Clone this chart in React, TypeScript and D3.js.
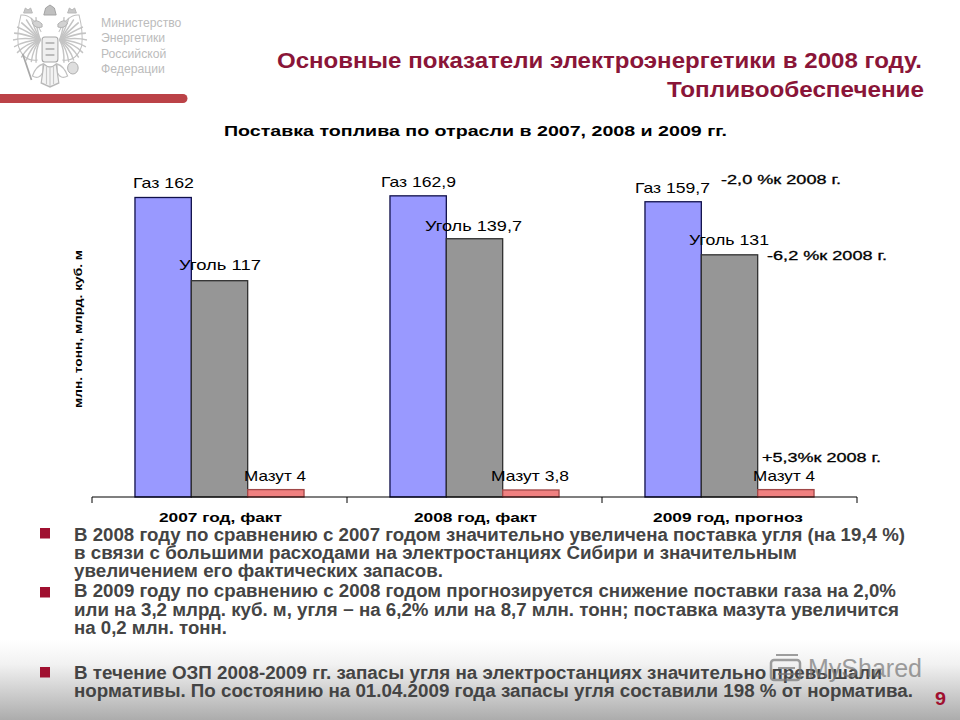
import React from "react";
import * as d3 from "d3";

const years = ["2007 год, факт", "2008 год, факт", "2009 год, прогноз"];
const fuels = ["Газ", "Уголь", "Мазут"];
const gas = [162, 162.9, 159.7];
const coal = [117, 139.7, 131];
const mazut = [4, 3.8, 4];
const seriesValues = [gas, coal, mazut];
const fuelColors = ["#9999ff", "#969696", "#f08080"];
const fuelStrokes = ["#10104a", "#303030", "#a04848"];
const notes = ["-2,0 %к 2008 г.", "-6,2 %к 2008 г.", "+5,3%к 2008 г."];
const logoLines = ["Министерство", "Энергетики", "Российской", "Федерации"];
const bodyLines = [
  "В 2008 году по сравнению с 2007 годом значительно увеличена поставка угля (на 19,4 %)",
  "в связи с большими расходами на электростанциях Сибири и значительным",
  "увеличением его фактических запасов.",
  "В 2009 году по сравнению с 2008 годом прогнозируется снижение поставки газа на 2,0%",
  "или на 3,2 млрд. куб. м, угля − на 6,2% или на 8,7 млн. тонн; поставка мазута увеличится",
  "на 0,2 млн. тонн.",
  "В течение ОЗП 2008-2009 гг. запасы угля на электростанциях значительно превышали",
  "нормативы. По состоянию на 01.04.2009 года запасы угля составили 198 % от норматива.",
];

// layout constants, kept apart from the data
const bodyBase = [541, 559, 577, 597, 616, 634, 679, 697];
const bodyEnd = [905, 797, 443, 896, 899, 227, 882, 913];
const bulletTop = [528, 587, 667];
const labelBoxes = [
  [[133, 194, 188], [179, 261, 270], [244, 306, 481]],
  [[381, 456, 187], [425, 522, 231], [491, 569, 481]],
  [[635, 710, 193], [689, 769, 245], [753, 815, 481]],
];
const noteBoxes = [[721, 841, 184], [767, 887, 260], [762, 881, 462]];
const catBoxes = [[159, 282], [414, 537], [653, 803]];
const FONT = "'Liberation Sans', Arial, sans-serif";

const fmt = (v: number) => String(v).replace(".", ",");

function T(p: any) {
  const { x0, x1, y, children, size = 14, weight = "normal", fill = "#000", extra } = p;
  return (
    <text
      x={x0}
      y={y}
      textLength={x1 - x0}
      lengthAdjust="spacingAndGlyphs"
      fontFamily={FONT}
      fontSize={size}
      fontWeight={weight}
      fill={fill}
      {...extra}
    >
      {children}
    </text>
  );
}

function Emblem() {
  const feathers = d3.range(0, 13);
  const wing = (s: number) => (
    <g transform={`translate(50,0) scale(${s},1)`} fill="none">
      {feathers.map((i) => {
        const a = (-78 + i * 13) * (Math.PI / 180);
        const r = 27 + 4 * Math.cos(a * 2);
        return (
          <path
            key={i}
            d={`M11 40 Q${11 + r * 0.5 * Math.cos(a) + 3} ${40 + r * 0.5 * Math.sin(a) - 3} ${11 + r * Math.cos(a)} ${40 + r * Math.sin(a)}`}
            stroke="#c4c4c4"
            strokeWidth={1.6}
          />
        );
      })}
      <path d="M10 32 Q20 14 33 15 Q38 32 36 46 Q30 62 14 60" stroke="#c0c0c0" strokeWidth={1.1} />
      <path d="M9 24 q7 -6 11 -1 q-3 6 -11 4 Z" fill="#d2d2d2" stroke="#b0b0b0" />
      <path d="M20 13 l2 -5 l3 2 l3 -2 l2 5 Z" fill="#c8c8c8" stroke="#b5b5b5" />
      <path d="M8 64 Q16 66 20 76 Q12 80 8 72 Z" stroke="#c0c0c0" strokeWidth={1.3} />
    </g>
  );
  return (
    <g transform="translate(50,0) scale(0.88,1) translate(-50,0)">
      {wing(1)}
      {wing(-1)}
      <rect x={41} y={37} width={18} height={25} rx={3} fill="#efefef" stroke="#a8a8a8" strokeWidth={1.2} />
      <path d="M45 43 h10 M45 49 h10 M45 55 h10" stroke="#bbb" strokeWidth={2} />
      <path d="M43 15 l2 -7 l5 -3 l5 3 l2 7 Z" fill="#c0c0c0" stroke="#a0a0a0" />
      <path d="M43 64 Q50 70 57 64 L60 83 L50 87 L40 83 Z" fill="#f4f4f4" stroke="#b8b8b8" strokeWidth={1.4} />
      <path d="M46 66 V84 M50 68 V86 M54 66 V84" stroke="#c8c8c8" strokeWidth={1.3} />
      <path d="M19 54 L29 80" stroke="#a8a8a8" strokeWidth={2} />
      <circle cx={76} cy={68} r={6} fill="#dedede" stroke="#aaa" />
    </g>
  );
}

export default function App() {
  const x0 = d3.scaleBand<string>().domain(years).range([92, 857]).paddingInner(0.337).paddingOuter(0.1685);
  const x1 = d3.scaleBand<string>().domain(fuels).range([0, x0.bandwidth()]);
  const y = d3.scaleLinear().domain([0, 162]).range([497, 197.5]);
  const step = x0.step();
  const ticks = d3.range(0, years.length + 1).map((i) => 92 + i * step);

  return (
    <svg width={960} height={720} viewBox="0 0 960 720" style={{ position: "absolute", left: 0, top: 0, background: "#fff" }}>
      <defs>
        <linearGradient id="bg" x1="0" y1="0" x2="0" y2="1">
          <stop offset="0" stopColor="#ffffff" />
          <stop offset="0.3" stopColor="#f2f2f2" />
          <stop offset="1" stopColor="#acacac" />
        </linearGradient>
      </defs>
      <rect x={0} y={640} width={960} height={80} fill="url(#bg)" />

      <Emblem />
      {logoLines.map((l, i) => (
        <text key={l} x={101} y={27 + i * 15.4} fontFamily={FONT} fontSize={12.2} fill="#bcbcbc">{l}</text>
      ))}
      <path d="M0 94 H183 a4 4 0 0 1 0 9 H0 Z" fill="#bb4247" />

      <T x0={277} x1={922} y={68} size={22} weight="bold" fill="#8a1538">Основные показатели электроэнергетики в 2008 году.</T>
      <T x0={667} x1={924} y={97} size={22} weight="bold" fill="#8a1538">Топливообеспечение</T>
      <T x0={224} x1={727} y={136} size={15.5} weight="bold">Поставка топлива по отрасли в 2007, 2008 и 2009 гг.</T>

      <T x0={0} x1={158} y={0} size={11} weight="bold" extra={{ transform: "translate(82,408) rotate(-90)" }}>
        млн. тонн, млрд. куб. м
      </T>

      {years.map((yr, g) => (
        <g key={yr} transform={`translate(${x0(yr)},0)`}>
          {fuels.map((f, s) => {
            const v = seriesValues[s][g];
            return (
              <rect
                key={f}
                x={x1(f)}
                y={y(v)}
                width={x1.bandwidth()}
                height={y(0) - y(v)}
                fill={fuelColors[s]}
                stroke={fuelStrokes[s]}
                strokeWidth={1.3}
              />
            );
          })}
        </g>
      ))}

      <path d={`M92 497 H857`} stroke="#000" strokeWidth={1.2} fill="none" />
      {ticks.map((t) => (
        <line key={t} x1={t} x2={t} y1={497} y2={503} stroke="#000" strokeWidth={1} />
      ))}
      {years.map((yr, g) => (
        <T key={yr} x0={catBoxes[g][0]} x1={catBoxes[g][1]} y={522} size={12} weight="bold">{yr}</T>
      ))}

      {years.map((yr, g) =>
        fuels.map((f, s) => {
          const b = labelBoxes[g][s];
          return (
            <T key={yr + f} x0={b[0]} x1={b[1]} y={b[2]} size={15}>
              {`${f} ${fmt(seriesValues[s][g])}`}
            </T>
          );
        })
      )}
      {notes.map((n, i) => (
        <T key={n} x0={noteBoxes[i][0]} x1={noteBoxes[i][1]} y={noteBoxes[i][2]} size={13.5} extra={{ stroke: "#000", strokeWidth: 0.3 }}>
          {n}
        </T>
      ))}

      {bulletTop.map((b) => (
        <rect key={b} x={40} y={b} width={10} height={10.5} fill="#a01030" />
      ))}
      {bodyLines.map((l, i) => (
        <T key={l} x0={74} x1={bodyEnd[i]} y={bodyBase[i]} size={17.5} weight="bold" fill="#444">{l}</T>
      ))}

      <g opacity={0.7}>
        <rect x={771} y={660} width={29} height={20} rx={3} fill="none" stroke="#777" strokeWidth={2.5} />
        <path d="M776 655 h22 M778 668 h17 M778 674 h17" stroke="#777" strokeWidth={2} fill="none" />
        <T x0={808} x1={922} y={677} size={25} fill="#777">MyShared</T>
      </g>
      <T x0={935} x1={946} y={705} size={19} weight="bold" fill="#a01030">9</T>
    </svg>
  );
}
